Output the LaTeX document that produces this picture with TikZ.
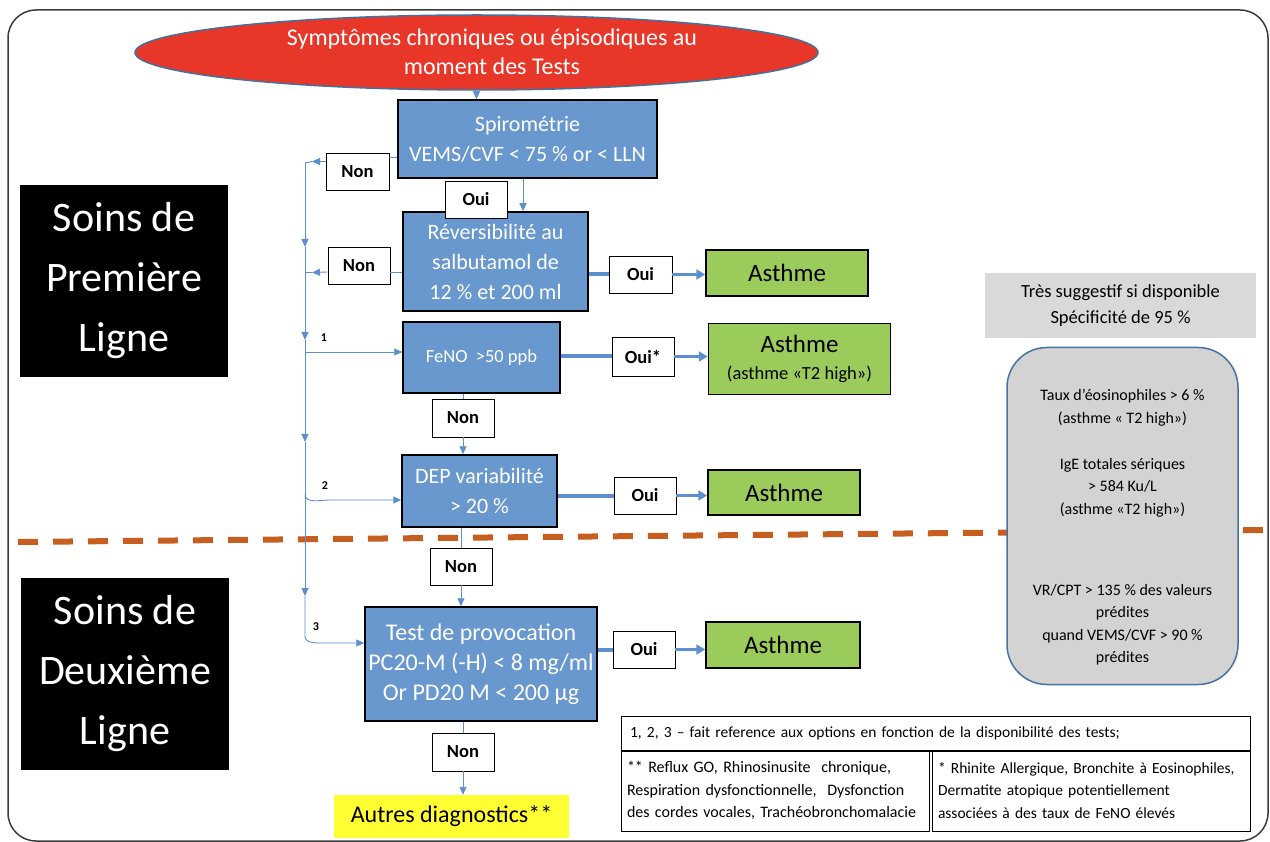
\documentclass[tikz,border=0pt]{standalone}
\usepackage{fontspec}
\setmainfont{Carlito}
\usetikzlibrary{shapes.geometric,arrows.meta,calc}
\newcommand\myfs[2]{\fontsize{#1}{#2}\selectfont}
\definecolor{bbox}{RGB}{104,152,206}
\definecolor{gbox}{RGB}{155,203,91}
\definecolor{ered}{RGB}{232,54,40}
\definecolor{ellb}{RGB}{65,113,156}
\definecolor{ybox}{RGB}{255,255,51}
\definecolor{gtres}{RGB}{217,217,217}
\definecolor{critf}{RGB}{211,211,211}
\definecolor{critb}{RGB}{69,114,163}
\definecolor{dorange}{RGB}{197,94,30}
\definecolor{lblue}{RGB}{91,143,208}
\definecolor{framec}{RGB}{60,60,60}
\begin{document}
\begin{tikzpicture}[x=1pt,y=-1pt,
  bluebox/.style={draw=black, line width=1.5pt, fill=bbox, text=white, align=center, inner sep=0pt, font=\myfs{22}{30}},
  lbl/.style={draw=black, line width=0.8pt, fill=white, inner sep=0pt, minimum width=62pt, minimum height=37pt, font=\bfseries\myfs{18.5}{20}},
  greenbox/.style={draw=black, line width=1.5pt, fill=gbox, align=center, inner sep=0pt, font=\myfs{25}{28}},
  blackbox/.style={fill=black, text=white, align=center, inner sep=0pt, minimum width=208pt, minimum height=192pt, font=\myfs{42}{60}},
  conn/.style={draw=lblue, line width=0.9pt},
  arr/.style={conn, -{Triangle[length=8pt,width=7pt]}},
  thk/.style={draw=lblue, line width=4pt},
  tharr/.style={draw=lblue, line width=3pt, -{Triangle[length=9pt,width=10pt]}},
  numlbl/.style={font=\bfseries\myfs{12}{14}, inner sep=0pt},
  notecell/.style={draw=black, line width=1pt, align=left, inner ysep=0pt, minimum height=81pt, font=\myfs{16}{22.5}},
  crittxt/.style={align=center, inner sep=0pt, font=\myfs{16}{22.5}}
]
\useasboundingbox (0,0) rectangle (1270,842);
\draw[draw=framec, line width=1.5pt, rounded corners=28pt] (8,10) rectangle (1268,841);
\draw[draw=dorange, line width=6pt, dash pattern=on 20pt off 15pt] (18,542) -- (1270,530);

% ellipse
\node[ellipse, draw=ellb, line width=1.5pt, fill=ered, minimum width=683pt, minimum height=75pt, inner sep=0pt] (ell) at (476.5,52.5) {};
\node[text=white, align=center, inner sep=0pt, font=\myfs{24}{29}] (ellT) at (492,52) {Symptômes chroniques ou épisodiques au\\moment des Tests};

% blue boxes
\node[bluebox, minimum width=259pt, minimum height=78pt] (spiro) at (527.5,139) {Spirométrie\\VEMS/CVF < 75 \% or < LLN};
\node[bluebox, minimum width=185pt, minimum height=99pt] (rev) at (495.5,261.5) {Réversibilité au\\salbutamol de\\12 \% et 200 ml};
\node[bluebox, minimum width=157pt, minimum height=71pt, font=\myfs{18.5}{24}] (feno) at (481.5,357.5) {FeNO\ \ >50 ppb};
\node[bluebox, minimum width=155pt, minimum height=72pt] (dep) at (479.5,491) {DEP variabilité\\> 20 \%};
\node[bluebox, minimum width=232pt, minimum height=114pt, font=\myfs{24}{30}] (test) at (481,664) {Test de provocation\\PC20-M (-H) < 8 mg/ml\\Or PD20 M < 200 µg};

% labels
\node[lbl] (ouiA) at (476,199.5) {Oui};
\node[lbl, minimum width=63pt] (non1) at (357.5,171.5) {Non};
\node[lbl] (non2) at (359,265.5) {Non};
\node[lbl, minimum width=63pt] (ouiR) at (640.5,274.5) {Oui};
\node[lbl, minimum height=39pt] (ouiF) at (643,356.5) {Oui*};
\node[lbl, minimum height=38pt] (nonF) at (463,418) {Non};
\node[lbl] (ouiD) at (645,495.5) {Oui};
\node[lbl] (nonD) at (461,566.5) {Non};
\node[lbl] (ouiT) at (644,649.5) {Oui};
\node[lbl, minimum height=38pt] (nonT) at (463,752) {Non};

% green boxes
\node[greenbox, minimum width=162pt, minimum height=46pt] (asth1) at (787,273) {Asthme};
\node[greenbox, minimum width=182pt, minimum height=71pt] (asth2) at (799.5,359) {Asthme\\[-1pt]{\myfs{18.5}{22}(asthme «T2 high»)}};
\node[greenbox, minimum width=152pt, minimum height=45pt] (asth3) at (784,492.5) {Asthme};
\node[greenbox, minimum width=154pt, minimum height=46pt] (asth4) at (783,645) {Asthme};

\node[fill=ybox, minimum width=235pt, minimum height=43pt, inner sep=0pt, font=\myfs{24}{28}] (autres) at (451.5,816.5) {Autres diagnostics**};

% black boxes
\node[blackbox] (soins1) at (124,281) {Soins de\\Première\\Ligne};
\node[blackbox] (soins2) at (125,674) {Soins de\\Deuxième\\Ligne};

% right side
\node[fill=gtres, minimum width=271pt, minimum height=65pt, inner sep=0pt, align=center, font=\myfs{18.5}{26}] (tres) at (1120.5,305.5) {Très suggestif si disponible\\Spécificité de 95 \%};
\node[draw=critb, line width=1.5pt, fill=critf, rounded corners=40pt, minimum width=231pt, minimum height=337pt] (crit) at (1122.5,516) {};
\node[crittxt] (critA) at (1122.5,407.5) {Taux d’éosinophiles > 6 \%\\(asthme « T2 high»)};
\node[crittxt] (critB) at (1122.5,487.5) {IgE totales sériques\\> 584 Ku/L\\(asthme «T2 high»)};
\node[crittxt] (critC) at (1122.5,624.5) {VR/CPT > 135 \% des valeurs\\prédites\\quand VEMS/CVF > 90 \%\\prédites};

% notes table
\node[draw=black, line width=1pt, text width=611pt, inner xsep=9pt, inner ysep=0pt, minimum height=34pt, align=left, font=\myfs{15.5}{22.5}] (noteT) at (935.5,733) {1, 2, 3 – fait reference aux options en fonction de la disponibilité des tests;};
\node[notecell, text width=296pt, inner xsep=6pt] (noteL) at (775,790.5) {** Reflux GO, Rhinosinusite\ \ chronique,\\Respiration dysfonctionnelle,\ \ Dysfonction\\des cordes vocales, Trachéobronchomalacie};
\node[notecell, text width=306pt, inner xsep=6pt, font=\myfs{15.5}{22.5}] (noteR) at (1091,790.5) {* Rhinite Allergique, Bronchite à Eosinophiles,\\Dermatite atopique potentiellement\\associées à des taux de FeNO élevés};
\draw[line width=2pt] (noteT.south west) -- (noteT.south east);

% connectors (main column)
\draw[arr] (ell.south) -- (ell.south |- spiro.north);
\draw[arr] ([xshift=-4.5pt]spiro.south) -- ([xshift=-4.5pt]spiro.south |- rev.north);
\draw[conn] (nonF.north |- feno.south) -- (nonF.north);
\draw[arr] (nonF.south) -- (nonF.south |- dep.north);
\draw[conn] (nonD.north |- dep.south) -- (nonD.north);
\draw[arr] (nonD.south) -- (nonD.south |- test.north);
\draw[conn] (nonT.north |- test.south) -- (nonT.north);
\draw[arr] (nonT.south) -- (nonT.south |- autres.north);

% Oui branches
\draw[thk] (ouiR.west -| rev.east) -- (ouiR.west);
\draw[tharr] (ouiR.east) -- (ouiR.east -| asth1.west);
\draw[thk] (ouiF.west -| feno.east) -- (ouiF.west);
\draw[tharr] (ouiF.east) -- (ouiF.east -| asth2.west);
\draw[thk] (ouiD.west -| dep.east) -- (ouiD.west);
\draw[tharr] (ouiD.east) -- (ouiD.east -| asth3.west);
\draw[thk] (ouiT.west -| test.east) -- (ouiT.west);
\draw[tharr] (ouiT.east) -- (ouiT.east -| asth4.west);

% left side Non branches
\coordinate (n1tip) at (312,161.5);
\coordinate (n2tip) at (312,272.5);
\coordinate (va) at (305,163);
\coordinate (vb) at (305,247);
\coordinate (vc) at (305,340);
\coordinate (vd) at (305,442);
\coordinate (ve) at (305,596);
\coordinate (vf) at (305,636);
\coordinate (c1) at (305,352);
\coordinate (c2a) at (305,494);
\coordinate (c2) at (330,500);
\coordinate (c3) at (322,643);
\draw[conn] ([yshift=14.5pt]non1.east) -- ([yshift=14.5pt]non1.east -| spiro.west);
\draw[arr] ([yshift=10pt]non1.west) -- (n1tip);
\draw[conn] (n1tip) -- (va);
\draw[conn] ([yshift=-6.5pt]non2.east) -- ([yshift=-6.5pt]non2.east -| rev.west);
\draw[arr] ([yshift=-6.5pt]non2.west) -- (n2tip);
\draw[conn] (n2tip) -- (n2tip -| va);
\draw[arr] (va) -- (vb);
\draw[arr] (vb) -- (vc);
\draw[arr] (vc) -- (vd);
\draw[arr] (vd) -- (ve);
\draw[arr] (ve) -- (vf) to[out=-90,in=180] (c3) -- ([yshift=21pt]test.west);
\draw[arr] (c1) -- (c1 -| feno.west);
\draw[arr] (c2a) to[out=-90,in=180] (c2) -- (c2 -| dep.west);
\node[numlbl] (l1) at (324,338) {1};
\node[numlbl] (l2) at (325,486) {2};
\node[numlbl] (l3) at (316,627) {3};
\end{tikzpicture}
\end{document}
